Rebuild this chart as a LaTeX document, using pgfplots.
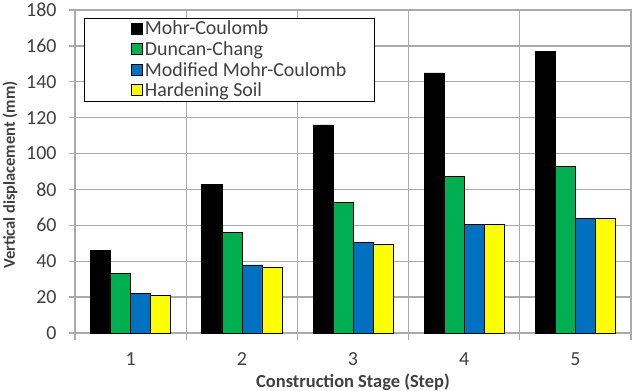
\documentclass[border=0pt]{standalone}
\usepackage{pgfplots}
\pgfplotsset{compat=1.18}
\usepackage{fontspec}
\setmainfont{Carlito}
\definecolor{mcblack}{RGB}{0,0,0}
\definecolor{dcgreen}{RGB}{0,176,80}
\definecolor{mmcblue}{RGB}{0,112,192}
\definecolor{hsyellow}{RGB}{255,255,0}
\definecolor{gridgray}{RGB}{170,170,170}
\definecolor{txt}{RGB}{64,64,64}
\newcommand{\lt}[1]{\makebox[227bp][l]{#1}}
\begin{document}
\begin{tikzpicture}
\begin{axis}[
  scale only axis,
  width=556bp, height=323bp,
  ybar=0pt, bar width=20bp,
  xmin=0.5, xmax=5.5, ymin=0, ymax=180,
  xtick={1,2,3,4,5},
  minor xtick={0.5,1.5,2.5,3.5,4.5,5.5},
  ytick={0,20,...,180},
  xmajorgrids=false, xminorgrids=true, ymajorgrids=true,
  grid style={gridgray, line width=1.3bp},
  minor grid style={gridgray, line width=1.3bp},
  axis line style={gridgray, line width=1.3bp},
  tick align=outside,
  major x tick style={draw=none},
  minor x tick style={gridgray, line width=1.3bp},
  y tick style={gridgray, line width=1.3bp},
  major tick length=6bp, minor tick length=7bp,
  xtick pos=bottom, ytick pos=left,
  font=\fontsize{18.5}{21}\selectfont,
  tick label style={text=txt, font=\fontsize{20}{22}\selectfont},
  /pgf/number format/assume math mode=true,
  xticklabel style={yshift=-10bp},
  yticklabel style={xshift=-9bp},
  xlabel={\bfseries Construction Stage (Step)},
  xlabel style={at={(axis description cs:0.5,0)}, anchor=north, yshift=-41bp, inner sep=0pt, text=txt},
  ylabel={\bfseries Vertical displacement (mm)},
  ylabel style={at={(axis description cs:-0.117,0.489)}, anchor=center, inner sep=0pt, text=txt, font=\fontsize{16.5}{18}\selectfont},
  legend cell align=left,
  legend style={at={(axis description cs:0.016,0.976)}, anchor=north west,
    draw=black, line width=0.8bp, fill=white, inner xsep=1bp, inner ysep=1bp,
    row sep=1.2bp, font=\fontsize{20}{22}\selectfont\color{txt}},
  legend image code/.code={\path (-46bp,0bp); \draw[#1, line width=0.6bp, draw=black] (0bp,-5bp) rectangle (11bp,6bp);},
  every axis plot/.append style={draw=black, line width=0.6bp},
]
\addplot[fill=mcblack] coordinates {(1,46) (2,83) (3,116) (4,145) (5,157)};
\addplot[fill=dcgreen] coordinates {(1,33.4) (2,56) (3,73) (4,87.2) (5,92.8)};
\addplot[fill=mmcblue] coordinates {(1,22) (2,38) (3,50.5) (4,60.3) (5,64)};
\addplot[fill=hsyellow] coordinates {(1,20.8) (2,36.8) (3,49.3) (4,60.3) (5,64)};
\legend{\lt{Mohr-Coulomb}, \lt{Duncan-Chang}, \lt{Modified Mohr-Coulomb}, \lt{Hardening Soil}}
\end{axis}
\pgfresetboundingbox
\useasboundingbox (-75bp,-58bp) rectangle (569bp,333bp);
\end{tikzpicture}
\end{document}
